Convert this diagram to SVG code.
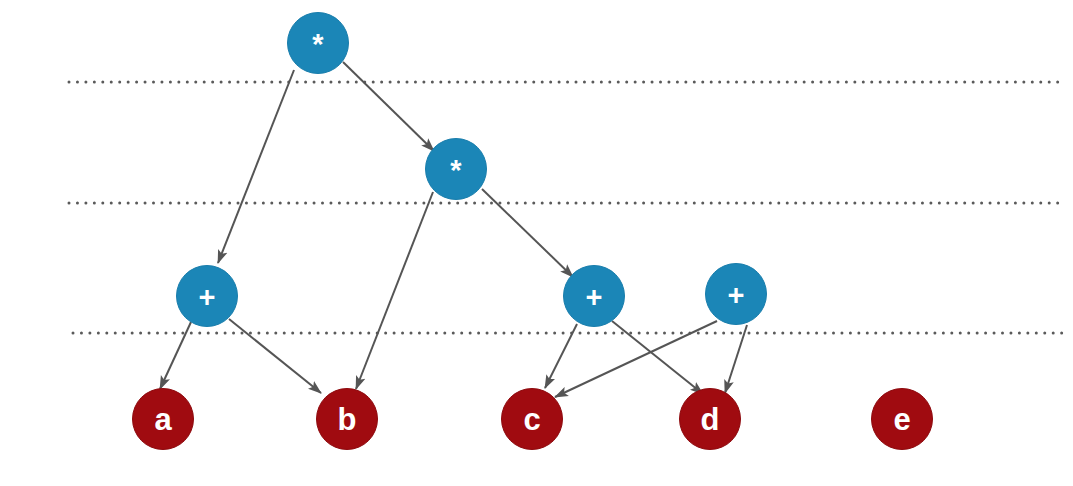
<svg xmlns="http://www.w3.org/2000/svg" width="1073" height="486" viewBox="0 0 1073 486">
<style>
.guide{stroke:#5a5a5a;stroke-width:3;stroke-linecap:round;stroke-dasharray:0 8.45;fill:none}
.op circle{fill:#1b86b7;stroke:#1a7eac;stroke-width:1}
.leaf circle{fill:#a00b10;stroke:#8e0a0e;stroke-width:1}
text{fill:#ffffff;font-family:"Liberation Sans",Arial,sans-serif;font-weight:bold;text-anchor:middle}
.op text{font-size:29px}
.leaf text{font-size:31px}
#edges line{stroke:#555555;stroke-width:2;marker-end:url(#arr)}
</style>
<defs>
<marker id="arr" markerUnits="userSpaceOnUse" viewBox="0 0 14 11" refX="13" refY="5.5" markerWidth="14" markerHeight="11" orient="auto">
<path d="M0,0.5 L14,5.5 L0,10.5 L3,5.5 Z" fill="#555555"/>
</marker>
</defs>
<rect width="1073" height="486" fill="#ffffff"/>
<g id="guides">
<line class="guide" x1="69" y1="82" x2="1062" y2="82"/>
<line class="guide" x1="69" y1="203" x2="1062" y2="203"/>
<line class="guide" x1="73" y1="333" x2="1062" y2="333"/>
</g>
<g id="edges">
<line x1="294" y1="70" x2="218" y2="263"/>
<line x1="343" y1="62" x2="434" y2="151"/>
<line x1="433" y1="192" x2="356" y2="389"/>
<line x1="482" y1="189" x2="573" y2="277"/>
<line x1="191" y1="322" x2="160" y2="389"/>
<line x1="229" y1="319" x2="321" y2="393"/>
<line x1="577" y1="324" x2="545" y2="388"/>
<line x1="612" y1="321" x2="703" y2="394"/>
<line x1="717" y1="321" x2="555" y2="397"/>
<line x1="747" y1="325" x2="725" y2="393"/>
</g>
<g id="n-mul1" class="op"><circle cx="318" cy="43" r="30.5"/><text x="318" y="54">*</text></g>
<g id="n-mul2" class="op"><circle cx="456" cy="169" r="30.5"/><text x="456" y="180">*</text></g>
<g id="n-add1" class="op"><circle cx="207" cy="296" r="30.5"/><text x="207" y="307">+</text></g>
<g id="n-add2" class="op"><circle cx="594" cy="296" r="30.5"/><text x="594" y="307">+</text></g>
<g id="n-add3" class="op"><circle cx="736" cy="294" r="30.5"/><text x="736" y="305">+</text></g>
<g id="n-a" class="leaf"><circle cx="163" cy="419" r="30.5"/><text x="163" y="430">a</text></g>
<g id="n-b" class="leaf"><circle cx="347" cy="419" r="30.5"/><text x="347" y="430">b</text></g>
<g id="n-c" class="leaf"><circle cx="532" cy="419" r="30.5"/><text x="532" y="430">c</text></g>
<g id="n-d" class="leaf"><circle cx="710" cy="419" r="30.5"/><text x="710" y="430">d</text></g>
<g id="n-e" class="leaf"><circle cx="902" cy="419" r="30.5"/><text x="902" y="430">e</text></g>
</svg>
